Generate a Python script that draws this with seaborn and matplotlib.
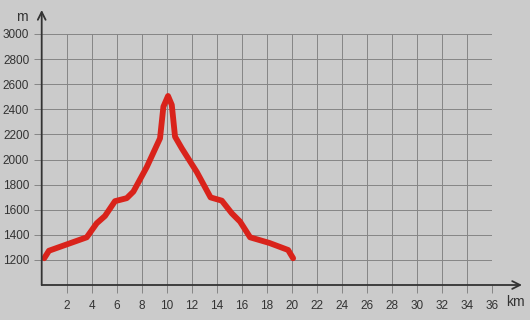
import matplotlib
matplotlib.use("Agg")
import matplotlib.pyplot as plt
import seaborn as sns
import pandas as pd

km = [0.2, 0.58, 3.6, 4.4, 5.06, 5.86, 6.8, 7.33, 8.4, 9.46, 9.73, 10.1, 10.4, 10.66,
      11.2, 12.4, 13.5, 14.4, 15.2, 15.86, 16.66, 18.2, 19.7, 20.1]
elev = [1213, 1273, 1380, 1492, 1550, 1668, 1692, 1744, 1940, 2169, 2421, 2506, 2435, 2182,
        2089, 1900, 1698, 1672, 1571, 1505, 1380, 1335, 1279, 1213]
xticks = list(range(2, 37, 2))
yticks = list(range(1200, 3001, 200))

sns.set_theme(style="white")
plt.rcParams['font.family'] = ['Liberation Sans', 'DejaVu Sans']

bg = "#cbcbcb"
fig = plt.figure(figsize=(5.3, 3.2), dpi=100, facecolor=bg)
W, H = 530, 320
left, right, top, bottom = 41.7, 492.0, 34.0, 285.0
ax = fig.add_axes([left / W, 1 - bottom / H, (right - left) / W, (bottom - top) / H])
ax.set_facecolor(bg)

df = pd.DataFrame({"km": km, "m": elev})
sns.lineplot(data=df, x="km", y="m", ax=ax, color="#d9231b", linewidth=4.2,
             sort=False, estimator=None, zorder=5)
ax.lines[-1].set_solid_joinstyle("round")

ax.set_xlim(0, 36)
ax.set_ylim(1000, 3000)
ax.set_xticks(xticks)
ax.set_yticks(yticks)
ax.set_xlabel("")
ax.set_ylabel("")
ax.grid(True, color="#858585", linewidth=0.7)
for s in ax.spines.values():
    s.set_visible(False)
ax.tick_params(axis="both", which="both", length=6, width=0.7, color="#858585",
               labelsize=8.5, labelcolor="#333333", direction="out")
ax.tick_params(axis="y", pad=3, left=True)
ax.tick_params(axis="x", pad=5, bottom=True)

aw = right - left
ah = bottom - top
ax.annotate("", xy=(0, 1 + 24 / ah), xytext=(0, 0), xycoords="axes fraction",
            arrowprops=dict(arrowstyle="->", color="#333333", lw=1.3, mutation_scale=14,
                            shrinkA=0, shrinkB=0), annotation_clip=False, zorder=6)
ax.annotate("", xy=(1 + 30 / aw, 0), xytext=(0, 0), xycoords="axes fraction",
            arrowprops=dict(arrowstyle="->", color="#333333", lw=1.3, mutation_scale=14,
                            shrinkA=0, shrinkB=0), annotation_clip=False, zorder=6)

fig.text(22 / W, 1 - 17 / H, "m", ha="center", va="center", fontsize=10, color="#333333")
fig.text(515 / W, 1 - 302 / H, "km", ha="center", va="center", fontsize=10, color="#333333")

fig.savefig("out.png", dpi=100, facecolor=bg)
